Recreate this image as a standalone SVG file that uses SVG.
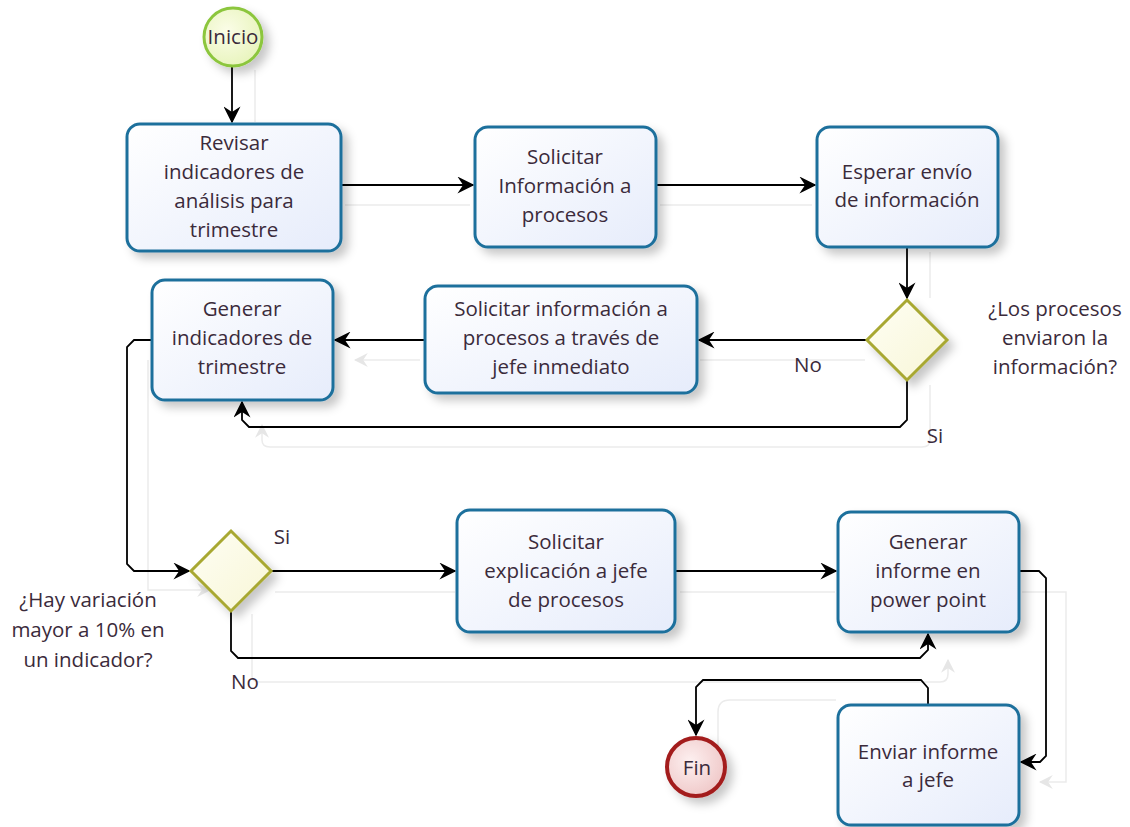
<svg xmlns="http://www.w3.org/2000/svg" width="1130" height="827" viewBox="0 0 1130 827">
<defs>
<linearGradient id="gTask" x1="0" y1="0" x2="1" y2="1"><stop offset="0" stop-color="#ffffff"/><stop offset="1" stop-color="#e6ecfb"/></linearGradient>
<radialGradient id="gStart" cx="0.4" cy="0.4" r="0.7"><stop offset="0" stop-color="#fbfde8"/><stop offset="1" stop-color="#e6f3b8"/></radialGradient>
<radialGradient id="gEnd" cx="0.4" cy="0.4" r="0.7"><stop offset="0" stop-color="#fdf0f0"/><stop offset="1" stop-color="#eec4c4"/></radialGradient>
<linearGradient id="gGate" x1="0" y1="0" x2="1" y2="1"><stop offset="0" stop-color="#fefef4"/><stop offset="1" stop-color="#f8f6d6"/></linearGradient>
<filter id="sh" x="-20%" y="-20%" width="150%" height="150%"><feDropShadow dx="6" dy="6" stdDeviation="5" flood-color="#000" flood-opacity="0.22"/></filter>
<marker id="ar" viewBox="0 0 12 12" refX="11" refY="6" markerWidth="17" markerHeight="17" markerUnits="userSpaceOnUse" orient="auto"><path d="M0,0 L12,6 L0,12 L4,6 z" fill="#000"/></marker>
<marker id="arg" viewBox="0 0 12 12" refX="11" refY="6" markerWidth="14" markerHeight="14" markerUnits="userSpaceOnUse" orient="auto"><path d="M0,0 L12,6 L0,12 L4,6 z" fill="#e6e6e6"/></marker>
</defs>
<style>
.task{fill:url(#gTask);stroke:#1e6f9c;stroke-width:3;filter:url(#sh)}
.gate{fill:url(#gGate);stroke:#a8a832;stroke-width:3;filter:url(#sh)}
.t{font-family:"Open Sans","Noto Sans","DejaVu Sans",sans-serif;font-size:20.5px;fill:#3b2b3b;text-anchor:middle}
.c{fill:none;stroke:#000;stroke-width:1.8;marker-end:url(#ar)}
.g{fill:none;stroke:#ebebeb;stroke-width:1.5}
</style>
<rect width="1130" height="827" fill="#fff"/>
<g id="ghosts">
<path class="g" d="M255,70 V122"/>
<path class="g" d="M345,205 H470"/>
<path class="g" d="M660,205 H812"/>
<path class="g" d="M930,252 V298"/>
<path class="g" d="M865,360 H700"/>
<path class="g" d="M420,360 H355" marker-end="url(#arg)"/>
<path class="g" d="M930,385 V440 Q930,447 922,447 H270 Q262,447 262,440 V425" marker-end="url(#arg)"/>
<path class="g" d="M148,360 V590 H210" marker-end="url(#arg)"/>
<path class="g" d="M275,592 H455"/>
<path class="g" d="M680,592 H835"/>
<path class="g" d="M252,614 V676 Q252,682 260,682 H940 Q948,682 948,674 V660" marker-end="url(#arg)"/>
<path class="g" d="M1022,592 H1066 V782 H1040" marker-end="url(#arg)"/>
<path class="g" d="M836,700 H730 Q718,700 718,712 V745"/>
</g>
<g id="connectors">
<path class="c" d="M232,66 V122"/>
<path class="c" d="M341,185 H473"/>
<path class="c" d="M656,185 H815"/>
<path class="c" d="M907,247 V298"/>
<path class="c" d="M867,340 H699"/>
<path class="c" d="M907,380 V420 L900,427 H249 L242,420 V402"/>
<path class="c" d="M425,340 H335"/>
<path class="c" d="M152,340 H134 L127,347 V564 L134,571 H189"/>
<path class="c" d="M271,571 H455"/>
<path class="c" d="M231,611 V651 L238,658 H920 L928,650 V634"/>
<path class="c" d="M675,571 H836"/>
<path class="c" d="M1019,571 H1039 L1046,578 V756 L1040,762 H1021"/>
<path class="c" d="M928,705 V688 L921,680 H703 L696,687 V735"/>
</g>
<g id="labels">
<text class="t" x="808" y="372">No</text>
<text class="t" x="935" y="443">Si</text>
<text class="t" x="282" y="544">Si</text>
<text class="t" x="245" y="689">No</text>
<text class="t" x="1055" y="316">¿Los procesos</text>
<text class="t" x="1055" y="345">enviaron la</text>
<text class="t" x="1055" y="374">información?</text>
<text class="t" x="88" y="607">¿Hay variación</text>
<text class="t" x="88" y="637">mayor a 10% en</text>
<text class="t" x="88" y="667">un indicador?</text>
</g>
<g id="inicio">
<circle cx="233" cy="37" r="29" fill="url(#gStart)" stroke="#8cc63e" stroke-width="3" filter="url(#sh)"/>
<text class="t" x="233" y="44">Inicio</text>
</g>
<g id="revisar">
<rect class="task" x="127" y="124" width="214" height="127" rx="13"/>
<text class="t" x="234" y="150">Revisar</text>
<text class="t" x="234" y="179">indicadores de</text>
<text class="t" x="234" y="208">análisis para</text>
<text class="t" x="234" y="237">trimestre</text>
</g>
<g id="solicitar">
<rect class="task" x="475" y="127" width="181" height="120" rx="13"/>
<text class="t" x="565" y="164">Solicitar</text>
<text class="t" x="565" y="193">Información a</text>
<text class="t" x="565" y="222">procesos</text>
</g>
<g id="esperar">
<rect class="task" x="817" y="127" width="181" height="120" rx="13"/>
<text class="t" x="907" y="179">Esperar envío</text>
<text class="t" x="907" y="207">de información</text>
</g>
<g id="gate1">
<polygon class="gate" points="907,300 947,340 907,380 867,340"/>
</g>
<g id="solicitarJefe">
<rect class="task" x="425" y="286" width="272" height="107" rx="13"/>
<text class="t" x="561" y="316">Solicitar información a</text>
<text class="t" x="561" y="345">procesos a través de</text>
<text class="t" x="561" y="374">jefe inmediato</text>
</g>
<g id="generarInd">
<rect class="task" x="152" y="280" width="181" height="120" rx="13"/>
<text class="t" x="242" y="316">Generar</text>
<text class="t" x="242" y="345">indicadores de</text>
<text class="t" x="242" y="374">trimestre</text>
</g>
<g id="gate2">
<polygon class="gate" points="231,531 271,571 231,611 191,571"/>
</g>
<g id="solicitarExp">
<rect class="task" x="457" y="510" width="218" height="122" rx="13"/>
<text class="t" x="566" y="549">Solicitar</text>
<text class="t" x="566" y="578">explicación a jefe</text>
<text class="t" x="566" y="607">de procesos</text>
</g>
<g id="generarInf">
<rect class="task" x="838" y="512" width="181" height="120" rx="13"/>
<text class="t" x="928" y="549">Generar</text>
<text class="t" x="928" y="578">informe en</text>
<text class="t" x="928" y="607">power point</text>
</g>
<g id="enviar">
<rect class="task" x="838" y="705" width="181" height="120" rx="13"/>
<text class="t" x="928" y="759">Enviar informe</text>
<text class="t" x="928" y="787">a jefe</text>
</g>
<g id="fin">
<circle cx="696" cy="767" r="29" fill="url(#gEnd)" stroke="#a31d1d" stroke-width="4" filter="url(#sh)"/>
<text class="t" x="697" y="775">Fin</text>
</g>
</svg>
